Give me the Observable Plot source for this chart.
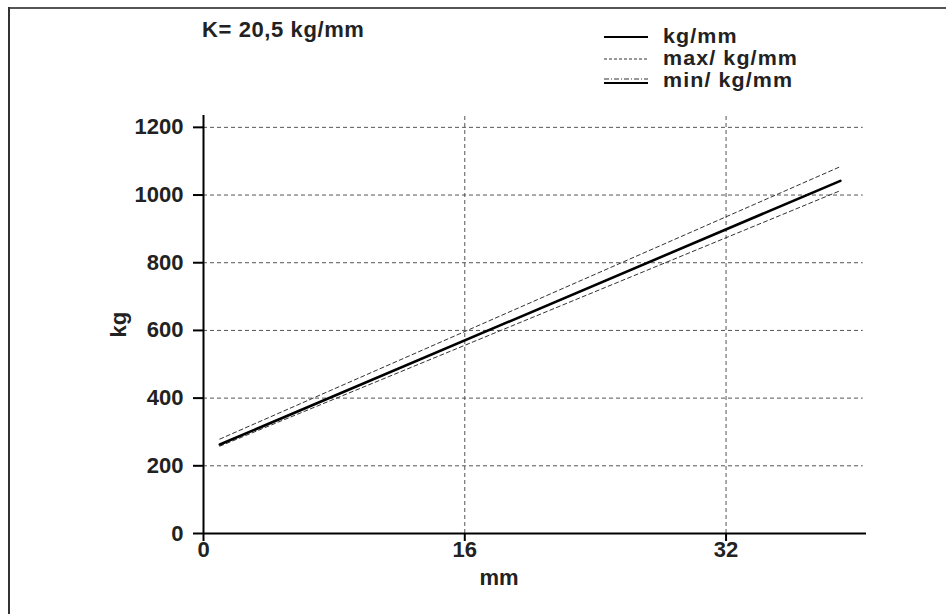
<!DOCTYPE html>
<html>
<head>
<meta charset="utf-8">
<script src="https://cdn.jsdelivr.net/npm/d3@7"></script>
<script src="https://cdn.jsdelivr.net/npm/@observablehq/plot@0.6"></script>
<style>
  html, body { margin: 0; padding: 0; background: #fff; }
  #wrap { position: relative; width: 946px; height: 614px; overflow: hidden;
          font-family: "Liberation Sans", Arial, sans-serif; font-weight: bold; color: #222; }
  #frameTop { position: absolute; left: 8px; top: 7px; width: 940px; height: 0; border-top: 2px solid #555; }
  #frameLeft { position: absolute; left: 8px; top: 7px; width: 0; height: 620px; border-left: 2px solid #333; }
  #title { position: absolute; left: 202px; top: 17px; font-size: 22px; letter-spacing: 0.6px; white-space: nowrap; }
  .leg { position: absolute; left: 602px; height: 20px; white-space: nowrap; font-size: 19.5px; letter-spacing: 1px; }
  .leg svg { position: absolute; left: 0; top: 0; }
  .leg span { position: absolute; left: 61px; top: 0px; line-height: 20px; transform: scaleX(1.1); transform-origin: 0 50%; }
  #chart { position: absolute; left: 0; top: 0; }
</style>
</head>
<body>
<div id="wrap">
  <div id="frameTop"></div>
  <div id="frameLeft"></div>
  <div id="title"></div>
  <div id="legend"></div>
  <div id="chart"></div>
</div>
<script>
// ---- data ----
const titleText = "K= 20,5 kg/mm";
const seriesNames = ["kg/mm", "max/ kg/mm", "min/ kg/mm"];
const mm = [1, 39];
const kgNominal = [263, 1042];
const kgMax = [279, 1084];
const kgMin = [258, 1013];
const xTicks = [0, 16, 32];
const yTicks = [0, 200, 400, 600, 800, 1000, 1200];
const xLabel = "mm";
const yLabel = "kg";

// ---- build rows ----
const rows = [];
const seriesValues = [kgNominal, kgMax, kgMin];
seriesNames.forEach((name, i) => {
  mm.forEach((x, j) => rows.push({series: name, mm: x, kg: seriesValues[i][j]}));
});

document.getElementById("title").textContent = titleText;

// legend
const legendStyles = [
  {y: 26, draw: () => `<line x1="2" x2="46" y1="11" y2="11" stroke="#000" stroke-width="2.2"/>`},
  {y: 48, draw: () => `<line x1="2" x2="46" y1="11" y2="11" stroke="#333" stroke-width="1" stroke-dasharray="3,2"/>`},
  {y: 70, draw: () => `<line x1="2" x2="46" y1="9" y2="9" stroke="#333" stroke-width="1" stroke-dasharray="5,2,1,2"/><line x1="2" x2="46" y1="13" y2="13" stroke="#000" stroke-width="2"/>`}
];
const legend = document.getElementById("legend");
seriesNames.forEach((name, i) => {
  const d = document.createElement("div");
  d.className = "leg";
  d.style.top = legendStyles[i].y + "px";
  d.innerHTML = `<svg width="50" height="22">${legendStyles[i].draw()}</svg><span>${name}</span>`;
  legend.appendChild(d);
});

const gridStyle = {stroke: "#555", strokeWidth: 1, strokeDasharray: "4,3", strokeOpacity: 1};

const chart = Plot.plot({
  width: 946,
  height: 614,
  marginLeft: 203,
  marginRight: 80,
  marginTop: 115,
  marginBottom: 81,
  style: {fontFamily: "'Liberation Sans', Arial, sans-serif", fontWeight: "bold", fontSize: "22px", color: "#222", background: "transparent", overflow: "visible"},
  x: {domain: [0, 40.6]},
  y: {domain: [0, 1235]},
  marks: [
    Plot.ruleY(yTicks.filter(d => d > 0), {...gridStyle, x1: 0, x2: 40.4}),
    Plot.ruleX(xTicks.filter(d => d > 0), {...gridStyle, y1: 0, y2: 1235}),
    Plot.line(rows.filter(r => r.series === seriesNames[1]), {x: "mm", y: "kg", stroke: "#333", strokeWidth: 1, strokeDasharray: "4,3"}),
    Plot.line(rows.filter(r => r.series === seriesNames[2]), {x: "mm", y: "kg", stroke: "#333", strokeWidth: 1, strokeDasharray: "4,3"}),
    Plot.line(rows.filter(r => r.series === seriesNames[0]), {x: "mm", y: "kg", stroke: "#000", strokeWidth: 2.6}),
    Plot.axisX(xTicks, {tickSize: 8, tickPadding: 0, stroke: "#000", strokeWidth: 2, label: null, fill: "#222", fontSize: 22, tickFormat: d => String(d)}),
    Plot.axisY(yTicks, {tickSize: 10, tickPadding: 10, stroke: "#000", strokeWidth: 2, label: null, fill: "#222", fontSize: 22, tickFormat: d => String(d)}),
    Plot.ruleX([0], {stroke: "#000", strokeWidth: 2}),
    Plot.ruleY([0], {stroke: "#000", strokeWidth: 2}),
    Plot.text([xLabel], {frameAnchor: "bottom", dx: -36, dy: 51, fontSize: 22, fontWeight: "bold", fill: "#222"}),
    Plot.text([yLabel], {frameAnchor: "left", dx: -85, dy: 13, rotate: -90, fontSize: 22, fontWeight: "bold", fill: "#222"})
  ]
});
document.getElementById("chart").appendChild(chart);
</script>
</body>
</html>
